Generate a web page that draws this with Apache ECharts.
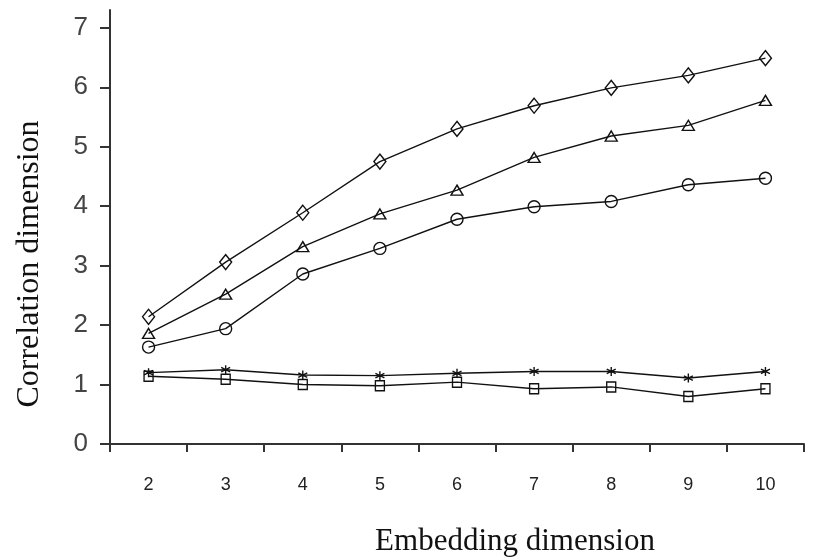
<!DOCTYPE html>
<html>
<head>
<meta charset="utf-8">
<script src="https://cdn.jsdelivr.net/npm/echarts@6/dist/echarts.min.js"></script>
<style>
  html, body { margin: 0; padding: 0; background: #fff; }
  #chart { width: 827px; height: 560px; }
</style>
</head>
<body>
<div id="chart"></div>
<script>
// embedding dimension
var categories = ['2', '3', '4', '5', '6', '7', '8', '9', '10']
var yTicks = [0, 1, 2, 3, 4, 5, 6, 7]

// correlation dimension
var diamondData = [2.14, 3.06, 3.89, 4.75, 5.30, 5.69, 5.99, 6.20, 6.49]
var triangleData = [1.86, 2.52, 3.32, 3.87, 4.27, 4.82, 5.18, 5.36, 5.78]
var circleData = [1.63, 1.94, 2.86, 3.29, 3.78, 3.99, 4.08, 4.36, 4.47]
var starData = [1.20, 1.25, 1.16, 1.15, 1.19, 1.22, 1.22, 1.11, 1.22]
var squareData = [1.14, 1.09, 1.00, 0.98, 1.04, 0.93, 0.96, 0.80, 0.93]

var asterisk = 'path://M5,0L5,10M0.7,2.5L9.3,7.5M0.7,7.5L9.3,2.5'

function makeSeries(name, data, symbol, size) {
  return {
    name: name,
    type: 'line',
    data: data,
    symbol: symbol,
    symbolSize: size,
    showAllSymbol: true,
    lineStyle: { color: '#111', width: 1.4 },
    itemStyle: {
      color: 'rgba(255,255,255,0)',
      borderColor: '#111',
      borderWidth: 1.4
    },
    emphasis: { disabled: true },
    z: 3
  }
}

var option = {
  backgroundColor: '#fff',
  animation: false,
  grid: {
    left: 110,
    right: 23,
    top: 10,
    bottom: 116,
    outerBoundsMode: 'none'
  },
  xAxis: {
    type: 'category',
    data: categories,
    boundaryGap: true,
    name: 'Embedding dimension',
    nameLocation: 'middle',
    nameGap: 82,
    nameTextStyle: {
      fontFamily: 'Liberation Serif, Times New Roman, serif',
      fontSize: 31,
      color: '#111',
      padding: [0, 0, 0, 116]
    },
    axisLine: { lineStyle: { color: '#333', width: 2 } },
    axisTick: {
      show: true,
      alignWithLabel: false,
      length: 8,
      lineStyle: { color: '#333', width: 2 }
    },
    axisLabel: {
      margin: 32,
      fontFamily: 'Liberation Sans Narrow, Liberation Sans, Arial, sans-serif',
      fontSize: 18,
      color: '#222'
    },
    splitLine: { show: false }
  },
  yAxis: {
    type: 'value',
    min: 0,
    max: 7.3,
    name: 'Correlation dimension',
    nameLocation: 'middle',
    nameGap: 64,
    nameTextStyle: {
      fontFamily: 'Liberation Serif, Times New Roman, serif',
      fontSize: 32,
      color: '#111',
      padding: [0, 74, 0, 0]
    },
    axisLine: { show: true, lineStyle: { color: '#333', width: 2 } },
    axisTick: {
      show: true,
      length: 10,
      customValues: yTicks,
      lineStyle: { color: '#333', width: 2 }
    },
    axisLabel: {
      margin: 22,
      customValues: yTicks,
      fontFamily: 'Liberation Sans, Arial, sans-serif',
      fontSize: 26,
      color: '#444'
    },
    splitLine: { show: false }
  },
  series: [
    makeSeries('diamond', diamondData, 'diamond', [12, 15]),
    makeSeries('triangle', triangleData, 'triangle', [12, 10]),
    makeSeries('circle', circleData, 'circle', 12),
    makeSeries('star', starData, asterisk, 9),
    makeSeries('square', squareData, 'rect', [9, 10])
  ]
}

var chart = echarts.init(document.getElementById('chart'))
chart.setOption(option)
</script>
</body>
</html>
